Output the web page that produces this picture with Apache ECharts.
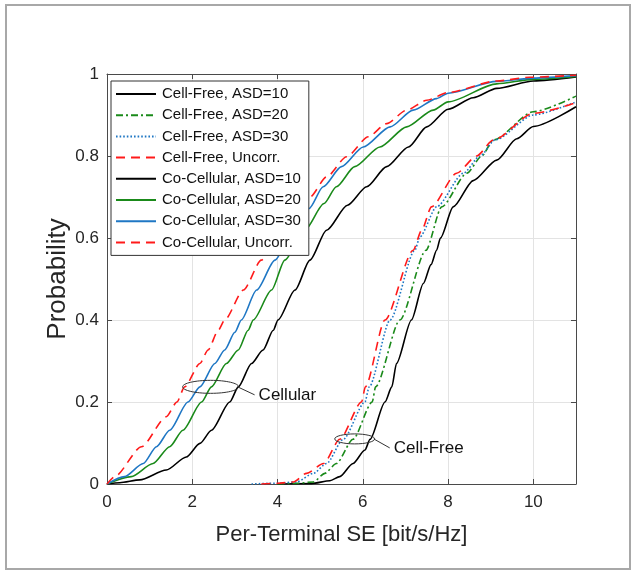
<!DOCTYPE html>
<html>
<head>
<meta charset="utf-8">
<script src="https://cdn.jsdelivr.net/npm/echarts@6/dist/echarts.min.js"></script>
<style>
html,body{margin:0;padding:0;background:#fff;}
#chart{width:636px;height:574px;}
</style>
</head>
<body>
<div id="chart"></div>
<script>
// ---- Data (x = SE [bit/s/Hz], p = CDF probability) ----
// Cell-Free curves
const cfAsd10X = [4.0, 4.8, 5.23, 5.46, 5.77, 6.05, 6.17, 6.52, 6.68, 6.79, 7.14, 7.42, 7.6, 7.73, 7.82, 8.12, 8.59, 9.14, 9.61, 10.0, 11.0];
const cfAsd10P = [0, 0.001, 0.008, 0.018, 0.05, 0.083, 0.109, 0.2, 0.237, 0.294, 0.4, 0.489, 0.535, 0.57, 0.6, 0.676, 0.74, 0.79, 0.842, 0.872, 0.92];

const cfAsd20X = [4.0, 4.5, 4.84, 5.11, 5.38, 5.77, 6.22, 6.3, 6.87, 7.48, 7.85, 8.44, 8.79, 9.06, 10.0, 11.0];
const cfAsd20P = [0, 0.002, 0.005, 0.026, 0.05, 0.109, 0.2, 0.237, 0.4, 0.57, 0.676, 0.758, 0.8, 0.839, 0.908, 0.946];

const cfAsd30X = [3.39, 4.0, 4.45, 4.84, 5.15, 5.54, 6.05, 6.15, 6.64, 7.22, 7.34, 7.73, 8.36, 8.75, 9.1, 10.0, 11.0];
const cfAsd30P = [0, 0.002, 0.005, 0.026, 0.05, 0.109, 0.2, 0.237, 0.4, 0.57, 0.603, 0.676, 0.758, 0.8, 0.839, 0.9, 0.932];

const cfUncorrX = [3.62, 4.0, 4.37, 4.68, 5.08, 5.46, 5.97, 6.06, 6.52, 7.18, 7.38, 7.61, 8.2, 8.67, 9.06, 10.0, 11.0];
const cfUncorrP = [0, 0.002, 0.005, 0.026, 0.05, 0.109, 0.2, 0.237, 0.4, 0.57, 0.619, 0.676, 0.758, 0.8, 0.839, 0.904, 0.93];

// Co-Cellular curves
const ccAsd10X = [0, 0.3, 0.77, 1.39, 1.86, 2.18, 2.45, 2.88, 3.08, 3.39, 3.66, 3.9, 4.01, 4.41, 4.76, 5.15, 5.64, 6.09, 6.56, 7.07, 7.5, 8.0, 8.59, 9.14, 10.0, 11.0];
const ccAsd10P = [0, 0.003, 0.01, 0.034, 0.066, 0.099, 0.131, 0.2, 0.237, 0.294, 0.327, 0.375, 0.4, 0.473, 0.546, 0.619, 0.68, 0.725, 0.774, 0.822, 0.871, 0.914, 0.942, 0.965, 0.983, 0.993];

const ccAsd20X = [0, 0.57, 1.08, 1.47, 1.78, 2.22, 2.45, 2.8, 3.08, 3.31, 3.43, 3.86, 4.17, 4.64, 5.09, 5.38, 5.81, 6.4, 7.03, 7.65, 8.0, 9.14, 10.0, 11.0];
const ccAsd20P = [0, 0.018, 0.05, 0.091, 0.131, 0.2, 0.237, 0.294, 0.327, 0.375, 0.4, 0.473, 0.546, 0.619, 0.684, 0.725, 0.774, 0.822, 0.871, 0.912, 0.932, 0.976, 0.987, 0.994];

const ccAsd30X = [0, 0.41, 0.85, 1.16, 1.47, 1.9, 2.18, 2.53, 2.76, 3.0, 3.15, 3.51, 3.94, 4.37, 4.74, 5.07, 5.5, 6.01, 6.64, 7.18, 7.73, 8.0, 9.14, 10.0, 11.0];
const ccAsd30P = [0, 0.018, 0.05, 0.091, 0.131, 0.2, 0.237, 0.294, 0.327, 0.37, 0.4, 0.473, 0.546, 0.619, 0.672, 0.725, 0.774, 0.822, 0.871, 0.912, 0.94, 0.953, 0.982, 0.99, 0.996];

const ccUncorrX = [0, 0.18, 0.81, 1.39, 1.64, 1.82, 2.18, 2.37, 2.61, 2.76, 3.2, 3.62, 4.0, 4.4, 4.76, 5.15, 5.62, 6.13, 6.56, 7.03, 7.5, 8.0, 9.14, 9.92, 11.0];
const ccUncorrP = [0, 0.018, 0.091, 0.164, 0.2, 0.237, 0.294, 0.327, 0.375, 0.4, 0.473, 0.546, 0.6, 0.655, 0.7, 0.749, 0.798, 0.847, 0.879, 0.912, 0.936, 0.955, 0.983, 0.992, 0.997];

const seriesNames = [
  'Cell-Free, ASD=10', 'Cell-Free, ASD=20', 'Cell-Free, ASD=30', 'Cell-Free, Uncorr.',
  'Co-Cellular, ASD=10', 'Co-Cellular, ASD=20', 'Co-Cellular, ASD=30', 'Co-Cellular, Uncorr.'
];

// axis ranges / ticks
const xMin = 0, xMax = 11, xStep = 2;
const yMin = 0, yMax = 1, yStep = 0.2;
const xTitle = 'Per-Terminal SE [bit/s/Hz]';
const yTitle = 'Probability';

// annotations (data coordinates of ellipse centres)
const annCellular = { x: 2.43, y: 0.237, text: 'Cellular' };
const annCellFree = { x: 5.81, y: 0.11, text: 'Cell-Free' };

// ---- Styles ----
const BLACK = '#000000', GREEN = '#1a8a1a', BLUE = '#1f77c4', RED = '#ff1a1a';
const FONT = 'Liberation Sans, Arial, sans-serif';
const TXT = '#262626';

function pts(xs, ps) { return xs.map((x, i) => [x, ps[i]]); }

const defs = [
  [cfAsd10X, cfAsd10P, BLACK, 'solid'],
  [cfAsd20X, cfAsd20P, GREEN, [7, 3, 2, 3]],
  [cfAsd30X, cfAsd30P, BLUE, [1.6, 2]],
  [cfUncorrX, cfUncorrP, RED, [9, 6]],
  [ccAsd10X, ccAsd10P, BLACK, 'solid'],
  [ccAsd20X, ccAsd20P, GREEN, 'solid'],
  [ccAsd30X, ccAsd30P, BLUE, 'solid'],
  [ccUncorrX, ccUncorrP, RED, [9, 6]]
];

const series = defs.map((d, i) => ({
  name: seriesNames[i],
  type: 'line',
  data: pts(d[0], d[1]),
  xAxisIndex: 0, yAxisIndex: 0,
  symbol: 'none',
  smooth: 0.25,
  smoothMonotone: 'x',
  clip: true,
  animation: false,
  lineStyle: { color: d[2], width: 1.6, type: d[3] },
  itemStyle: { color: d[2] },
  z: 2
}));

const axisLineStyle = { color: '#4a4a4a', width: 1 };
const gridLineStyle = { color: '#e3e3e3', width: 1 };

const chart = echarts.init(document.getElementById('chart'), null, { renderer: 'canvas' });

const option = {
  animation: false,
  backgroundColor: '#ffffff',
  textStyle: { fontFamily: FONT },
  grid: { left: 107, right: 60, top: 74, bottom: 90, containLabel: false },
  legend: {
    orient: 'vertical',
    left: 111, top: 81,
    data: seriesNames,
    itemWidth: 40, itemHeight: 14, itemGap: 3.2,
    padding: [4, 8, 4, 4],
    backgroundColor: '#ffffff',
    borderColor: '#333333', borderWidth: 1,
    itemStyle: { opacity: 0, borderWidth: 0 },
    textStyle: { fontFamily: FONT, fontSize: 15, color: '#111', lineHeight: 18, padding: [0, 0, 0, 1] },
    selectedMode: false,
    z: 10
  },
  xAxis: [
    {
      type: 'value', min: xMin, max: xMax, interval: xStep, position: 'bottom',
      name: xTitle, nameLocation: 'middle', nameGap: 40, nameMoveOverlap: false,
      nameTextStyle: { fontFamily: FONT, fontSize: 22, color: TXT },
      axisLine: { show: true, onZero: false, lineStyle: axisLineStyle },
      axisTick: { show: true, inside: true, length: 5, lineStyle: axisLineStyle },
      axisLabel: { fontFamily: FONT, fontSize: 17, color: TXT, margin: 10, showMaxLabel: false },
      splitLine: { show: true, lineStyle: gridLineStyle }
    },
    {
      type: 'value', min: xMin, max: xMax, interval: xStep, position: 'top',
      axisLine: { show: true, onZero: false, lineStyle: axisLineStyle },
      axisTick: { show: true, inside: true, length: 5, lineStyle: axisLineStyle },
      axisLabel: { show: false },
      splitLine: { show: false }
    }
  ],
  yAxis: [
    {
      type: 'value', min: yMin, max: yMax, interval: yStep, position: 'left',
      name: yTitle, nameLocation: 'middle', nameGap: 36, nameRotate: 90, nameMoveOverlap: false,
      nameTextStyle: { fontFamily: FONT, fontSize: 26, color: TXT },
      axisLine: { show: true, onZero: false, lineStyle: axisLineStyle },
      axisTick: { show: true, inside: true, length: 5, lineStyle: axisLineStyle },
      axisLabel: { fontFamily: FONT, fontSize: 17, color: TXT, margin: 8,
        formatter: v => (Math.abs(v - Math.round(v)) < 1e-9 ? String(Math.round(v)) : String(+v.toFixed(1))) },
      splitLine: { show: true, lineStyle: gridLineStyle }
    },
    {
      type: 'value', min: yMin, max: yMax, interval: yStep, position: 'right',
      axisLine: { show: true, onZero: false, lineStyle: axisLineStyle },
      axisTick: { show: true, inside: true, length: 5, lineStyle: axisLineStyle },
      axisLabel: { show: false },
      splitLine: { show: false }
    }
  ],
  series: series
};

chart.setOption(option);

// annotations: ellipses + leader lines + labels, placed via axis conversion
function ann(a, rx, ry, dx, dy) {
  const c = chart.convertToPixel({ xAxisIndex: 0, yAxisIndex: 0 }, [a.x, a.y]);
  const ex = c[0] + rx - 1, ey = c[1];
  const lx = ex + dx, ly = ey + dy;
  return [
    { type: 'ellipse', shape: { cx: c[0], cy: c[1], rx: rx, ry: ry },
      style: { fill: 'none', stroke: '#333', lineWidth: 1 }, z: 20 },
    { type: 'line', shape: { x1: ex, y1: ey, x2: lx, y2: ly },
      style: { stroke: '#333', lineWidth: 1 }, z: 20 },
    { type: 'text', x: lx + 4, y: ly,
      style: { text: a.text, fill: '#111', font: '17px ' + FONT, textVerticalAlign: 'middle', textAlign: 'left' }, z: 20 }
  ];
}

chart.setOption({
  graphic: [
    { type: 'rect', shape: { x: 6, y: 5, width: 624, height: 564 },
      style: { fill: 'none', stroke: '#a8a8a8', lineWidth: 2 }, z: 30, silent: true }
  ].concat(ann(annCellular, 28, 6.5, 17, 8)).concat(ann(annCellFree, 20, 5, 16, 9))
});
</script>
</body>
</html>
